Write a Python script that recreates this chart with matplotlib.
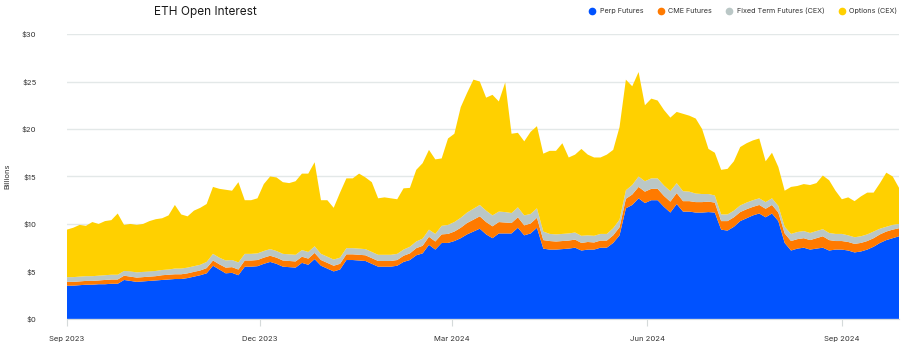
import matplotlib
matplotlib.use("Agg")
import matplotlib.pyplot as plt
from matplotlib.lines import Line2D
import pandas as pd

plt.rcParams['font.family'] = ['Inter', 'DejaVu Sans']

# sampled every 3 days from 1 Sep 2023, values in $ billions
start = "2023-09-01"
step = "3D"

perp = [3.5, 3.5, 3.55, 3.6, 3.6, 3.65, 3.65, 3.7, 3.7, 4.1,
        4.0, 3.9, 3.95, 4.0, 4.05, 4.1, 4.15, 4.2, 4.2, 4.3,
        4.45, 4.6, 4.8, 5.6, 5.2, 4.8, 4.85, 4.6, 5.5, 5.5,
        5.55, 5.8, 6.0, 5.8, 5.5, 5.45, 5.4, 5.9, 5.7, 6.3,
        5.6, 5.3, 5.0, 5.2, 6.2, 6.2, 6.15, 6.1, 5.8, 5.5,
        5.5, 5.5, 5.6, 6.0, 6.2, 6.7, 6.9, 7.8, 7.3, 8.0,
        8.0, 8.2, 8.5, 8.9, 9.2, 9.5, 8.9, 8.5, 9.0, 9.0,
        9.0, 9.6, 8.8, 9.0, 9.6, 7.4, 7.3, 7.3, 7.35, 7.4,
        7.5, 7.2, 7.3, 7.3, 7.5, 7.5, 8.0, 8.8, 11.65, 12.0,
        12.7, 12.2, 12.5, 12.5, 11.8, 11.2, 12.1, 11.3, 11.3, 11.2,
        11.2, 11.25, 11.2, 9.4, 9.3, 9.7, 10.3, 10.6, 10.9, 11.1,
        10.7, 11.1, 10.3, 8.0, 7.2, 7.4, 7.5, 7.3, 7.4, 7.5,
        7.2, 7.3, 7.3, 7.2, 7.0, 7.1, 7.3, 7.6, 8.0, 8.3,
        8.5, 8.7]

cme = [0.4, 0.4, 0.4, 0.4, 0.4, 0.4, 0.45, 0.45, 0.45, 0.45,
       0.45, 0.45, 0.45, 0.45, 0.45, 0.5, 0.5, 0.5, 0.5, 0.5,
       0.5, 0.5, 0.55, 0.55, 0.55, 0.6, 0.6, 0.6, 0.65, 0.65,
       0.65, 0.65, 0.65, 0.65, 0.65, 0.65, 0.65, 0.65, 0.65, 0.65,
       0.6, 0.6, 0.6, 0.6, 0.6, 0.6, 0.6, 0.6, 0.6, 0.6,
       0.6, 0.6, 0.6, 0.65, 0.7, 0.75, 0.8, 0.85, 0.85, 0.9,
       0.95, 1.0, 1.1, 1.2, 1.25, 1.3, 1.3, 1.25, 1.2, 1.15,
       1.1, 1.1, 1.05, 1.05, 1.05, 0.9, 0.9, 0.85, 0.85, 0.85,
       0.85, 0.8, 0.8, 0.75, 0.75, 0.75, 0.8, 0.85, 1.0, 1.1,
       1.2, 1.2, 1.2, 1.2, 1.15, 1.15, 1.15, 1.1, 1.1, 1.1,
       1.1, 1.1, 1.05, 0.9, 1.0, 1.0, 0.95, 0.95, 0.9, 0.9,
       0.9, 0.9, 0.9, 1.0, 1.0, 1.0, 1.0, 1.0, 1.1, 1.2,
       1.1, 0.9, 0.9, 0.9, 0.9, 0.9, 0.9, 0.9, 0.9, 0.9,
       0.9, 0.85]

fixed_term = [0.5, 0.5, 0.5, 0.5, 0.5, 0.5, 0.5, 0.5, 0.5, 0.5,
              0.55, 0.55, 0.55, 0.55, 0.55, 0.55, 0.55, 0.6, 0.6, 0.6,
              0.6, 0.6, 0.65, 0.7, 0.7, 0.75, 0.75, 0.75, 0.7, 0.7,
              0.7, 0.7, 0.7, 0.7, 0.7, 0.7, 0.7, 0.7, 0.7, 0.7,
              0.65, 0.65, 0.65, 0.65, 0.65, 0.65, 0.65, 0.65, 0.65, 0.65,
              0.65, 0.65, 0.65, 0.65, 0.7, 0.7, 0.75, 0.75, 0.8, 0.9,
              0.95, 1.0, 1.05, 1.1, 1.15, 1.2, 1.2, 1.15, 1.1, 1.1,
              1.05, 1.05, 1.05, 1.0, 1.0, 0.9, 0.75, 0.75, 0.75, 0.75,
              0.75, 0.75, 0.7, 0.7, 0.7, 0.7, 0.75, 0.8, 0.9, 1.0,
              1.1, 1.1, 1.1, 1.1, 1.1, 1.1, 1.05, 1.05, 1.0, 0.9,
              0.85, 0.8, 0.75, 0.7, 0.7, 0.7, 0.7, 0.7, 0.7, 0.7,
              0.7, 0.7, 0.7, 0.7, 0.75, 0.75, 0.75, 0.75, 0.75, 0.75,
              0.75, 0.75, 0.75, 0.7, 0.7, 0.7, 0.7, 0.7, 0.6, 0.5,
              0.5, 0.45]

options = [5.0, 5.2, 5.45, 5.3, 5.7, 5.45, 5.7, 5.75, 6.45, 4.85,
           5.0, 5.0, 5.05, 5.3, 5.45, 5.45, 5.7, 6.7, 5.7, 5.4,
           5.85, 6.0, 6.1, 7.05, 7.25, 7.45, 7.3, 8.45, 5.65, 5.65,
           5.8, 7.05, 7.65, 7.75, 7.55, 7.5, 7.75, 8.05, 8.25, 8.85,
           5.65, 5.95, 5.45, 6.85, 7.35, 7.35, 7.9, 7.55, 7.35, 5.95,
           6.05, 5.95, 5.75, 6.45, 6.2, 7.55, 7.95, 8.4, 7.85, 7.1,
           9.1, 9.3, 11.65, 12.6, 13.6, 13.0, 11.9, 12.7, 11.6, 13.65,
           8.35, 7.85, 7.8, 8.65, 8.65, 8.2, 8.75, 8.8, 9.55, 8.0,
           8.2, 9.15, 8.5, 8.25, 8.05, 8.35, 8.25, 9.75, 11.65, 10.4,
           11.0, 8.0, 8.4, 8.2, 7.95, 7.75, 7.5, 8.15, 8.0, 7.9,
           6.85, 4.75, 4.5, 4.7, 4.8, 5.2, 6.15, 6.25, 6.3, 6.3,
           4.3, 4.8, 4.1, 3.8, 4.95, 4.85, 4.95, 5.05, 5.05, 5.65,
           5.55, 4.55, 3.65, 4.0, 3.8, 4.2, 4.4, 4.1, 4.8, 5.7,
           5.1, 3.8]

labels = ["Perp Futures", "CME Futures", "Fixed Term Futures (CEX)", "Options (CEX)"]
colors = ["#0052ff", "#ff7a00", "#bac7c6", "#ffd000"]

tick_dates = ["2023-09-01", "2023-12-01", "2024-03-01", "2024-06-01", "2024-09-01"]
tick_labels = ["Sep 2023", "Dec 2023", "Mar 2024", "Jun 2024", "Sep 2024"]
y_ticks = [0, 5, 10, 15, 20, 25, 30]

dates = pd.date_range(start, periods=len(perp), freq=step)

fig = plt.figure(figsize=(9.04, 3.44), dpi=100)
ax = fig.add_axes([0.074, 0.073, 0.9205, 0.828])

ax.stackplot(dates, perp, cme, fixed_term, options, colors=colors,
             linewidth=0, zorder=2)

ax.set_xlim(dates[0], dates[-1])
ax.set_ylim(0, 30)
ax.set_yticks(y_ticks)
ax.set_yticklabels(["$%d" % v for v in y_ticks])
ax.yaxis.grid(True, color="#e3e8e8", linewidth=1, zorder=0)
ax.set_axisbelow(True)
ax.tick_params(axis="y", length=0, pad=22, labelsize=5.5, labelcolor="#333333")

ax.set_xticks(pd.to_datetime(tick_dates))
ax.set_xticklabels(tick_labels)
ax.tick_params(axis="x", length=5, color="#d5dada", pad=7, labelsize=5.5,
               labelcolor="#333333")

for side in ["top", "right", "left"]:
    ax.spines[side].set_visible(False)
ax.spines["bottom"].set_color("#d5dada")

ax.set_ylabel("Billions", fontsize=5.5, color="#333333", labelpad=8)

fig.text(0.227, 0.965, "ETH Open Interest", ha="center", va="center",
         fontsize=8.5, color="#1a1a1a")

handles = [Line2D([], [], marker="o", linestyle="", markersize=4.5,
                  markerfacecolor=c, markeredgecolor=c) for c in colors]
fig.legend(handles, labels, loc="center right", bbox_to_anchor=(1.0, 0.968),
           ncol=4, frameon=False, fontsize=5.2, handletextpad=0.05,
           columnspacing=1.4, labelcolor="#333333")

fig.savefig("out.png", dpi=100)
